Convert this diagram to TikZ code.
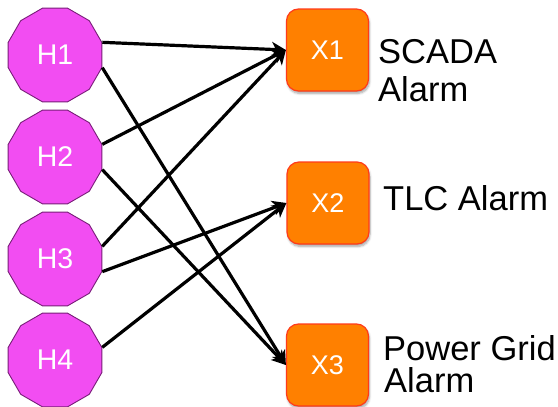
\documentclass[tikz,border=0pt]{standalone}
\usepackage{fontspec}
\setmainfont{Liberation Sans}
\usetikzlibrary{shapes.geometric,arrows.meta,shadows.blur}
\definecolor{hfill}{RGB}{242,77,242}
\definecolor{hdraw}{RGB}{120,30,120}
\definecolor{xfill}{RGB}{255,128,0}
\definecolor{xdraw}{RGB}{255,58,26}
\tikzset{
  hnode/.style={regular polygon, regular polygon sides=12, minimum size=97pt, inner sep=0pt,
    fill=hfill, draw=hdraw, line width=0.9pt, text=white, font=\fontsize{28.5}{30}\selectfont},
  xnode/.style={rectangle, rounded corners=12pt, minimum size=82pt, inner sep=0pt,
    fill=xfill, draw=xdraw, line width=1.2pt, text=white, font=\fontsize{27}{29}\selectfont,
    blur shadow={shadow xshift=1pt, shadow yshift=-2.5pt, shadow blur steps=6, shadow opacity=35}},
  lbl/.style={anchor=base west, inner sep=0pt, font=\fontsize{34.5}{36}\selectfont},
  edge/.style={line width=3.2pt, -{Stealth[length=14pt, width=15pt, inset=4pt]}}
}
\begin{document}
\begin{tikzpicture}[x=1pt, y=-1pt]
\useasboundingbox (0,0) rectangle (558,407);
\node[hnode] (H1) at (55,55) {H1};
\node[hnode] (H2) at (55,157) {H2};
\node[hnode] (H3) at (55,259) {H3};
\node[hnode] (H4) at (55,360) {H4};
\node[xnode] (X1) at (327.5,50) {X1};
\node[xnode] (X2) at (328,203) {X2};
\node[xnode] (X3) at (327.5,365) {X3};
\node[lbl] (L1a) at (378,63) {SCADA};
\node[lbl] (L1b) at (378,101) {Alarm};
\node[lbl] (L2) at (383,210) {TLC Alarm};
\node[lbl] (L3a) at (383,360) {Power Grid};
\node[lbl] (L3b) at (384,392) {Alarm};
\draw[edge] (H1.15) -- (X1.west);
\draw[edge] (H1.-15) -- (X3.west);
\draw[edge] (H2.15) -- (X1.west);
\draw[edge] (H2.-15) -- (X3.west);
\draw[edge] (H3.15) -- (X1.west);
\draw[edge] (H3.-15) -- (X2.west);
\draw[edge] (H4.15) -- (X2.west);
\end{tikzpicture}
\end{document}
